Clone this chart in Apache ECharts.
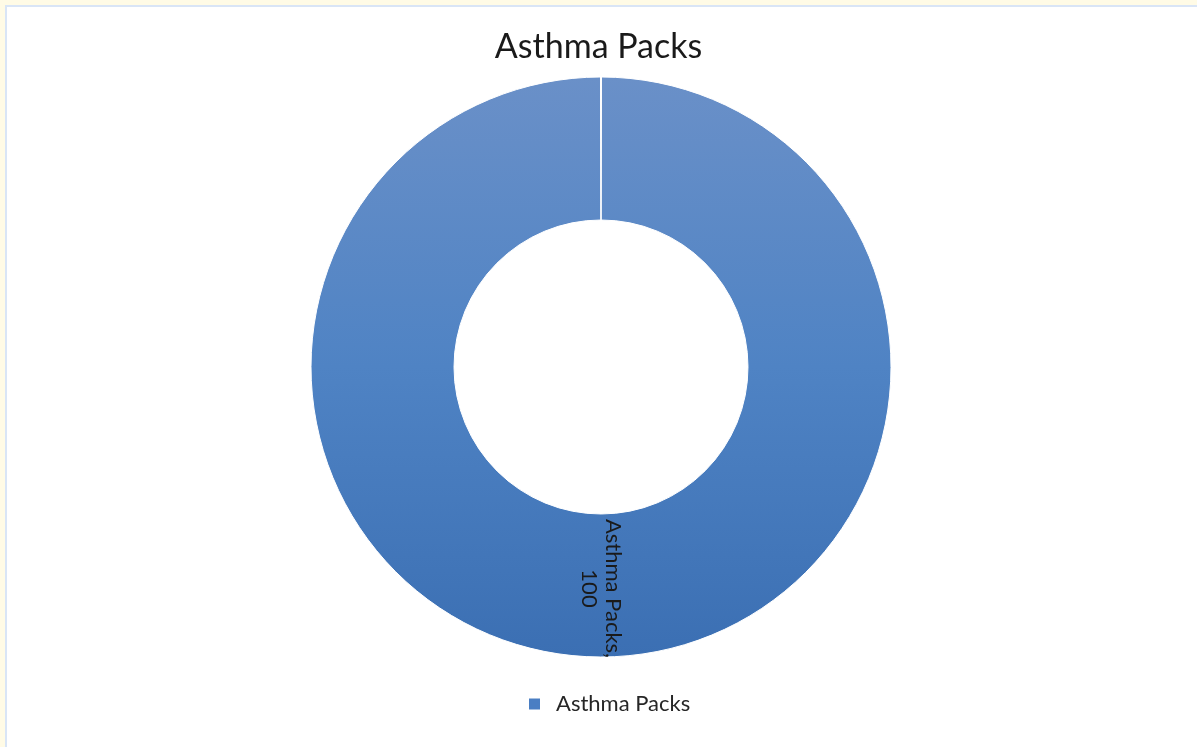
<!DOCTYPE html>
<html>
<head>
<meta charset="utf-8">
<script src="https://cdn.jsdelivr.net/npm/echarts@6/dist/echarts.min.js"></script>
<style>
  html, body { margin: 0; padding: 0; background: #fffbe6; width: 1197px; height: 747px; overflow: hidden; }
  #frame { position: absolute; left: 5px; top: 5px; right: 0; bottom: 0; background: #ffffff; border-left: 2px solid #d9e5f6; border-top: 2px solid #d9e5f6; }
  #chart { position: absolute; left: 0; top: 0; width: 1197px; height: 747px; }
</style>
</head>
<body>
<div id="frame"></div>
<div id="chart"></div>
<script>
const titleText = 'Asthma Packs';
const categories = ['Asthma Packs'];
const values = [100];

const chart = echarts.init(document.getElementById('chart'), null, { renderer: 'canvas' });
const FONT = 'Lato, "Open Sans", sans-serif';
chart.setOption({
  backgroundColor: 'transparent',
  animation: false,
  title: {
    text: titleText,
    left: 'center',
    top: 25,
    textStyle: { fontFamily: FONT, fontSize: 34, fontWeight: 'normal', color: '#1a1a1a' }
  },
  legend: {
    data: categories,
    bottom: 27,
    left: 522,
    icon: 'rect',
    itemWidth: 13,
    itemHeight: 13,
    itemStyle: { color: '#4a7ec3' },
    textStyle: { fontFamily: FONT, fontSize: 22, color: '#262626', padding: [0, 0, 0, 10] }
  },
  series: [{
    type: 'pie',
    center: [601, 367],
    radius: [147, 290],
    startAngle: 90,
    clockwise: true,
    padAngle: 0.2,
    data: categories.map((c, i) => ({ name: c, value: values[i] })),
    itemStyle: {
      borderColor: '#ffffff',
      borderWidth: 1,
      color: new echarts.graphic.LinearGradient(0, 0, 0, 1, [
        { offset: 0, color: '#6a90c8' },
        { offset: 0.5, color: '#4f83c4' },
        { offset: 1, color: '#3b6fb3' }
      ])
    },
    label: {
      show: true,
      position: 'inside',
      rotate: -90,
      formatter: '{b},\n{c}',
      fontFamily: FONT,
      fontSize: 22,
      lineHeight: 24,
      color: '#1a1a1a'
    },
    labelLine: { show: false },
    emphasis: { disabled: true }
  }]
});
</script>
</body>
</html>
